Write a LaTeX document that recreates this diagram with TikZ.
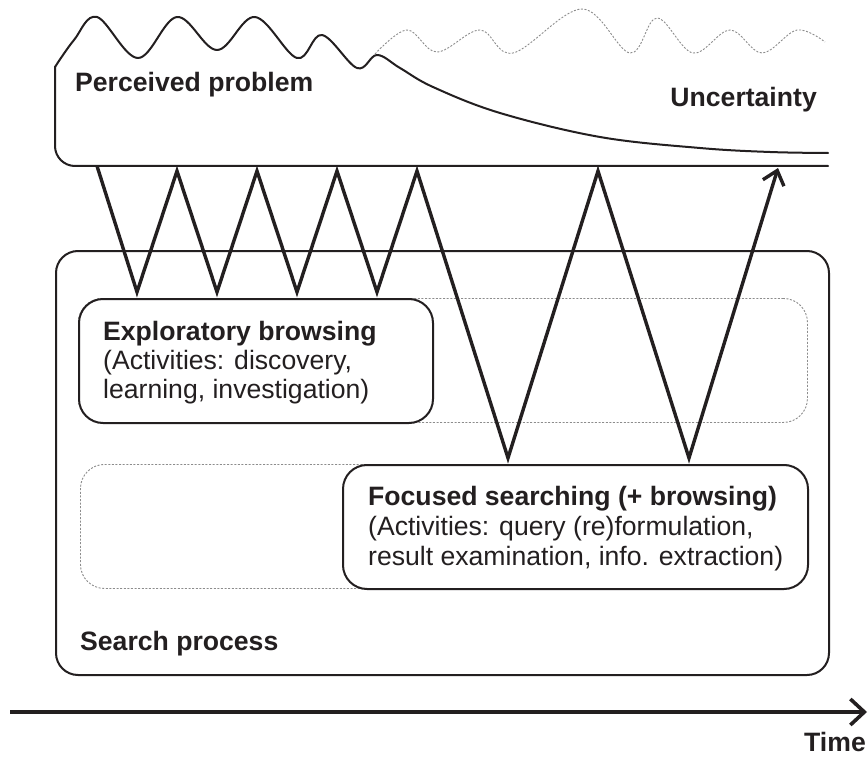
\documentclass[tikz,border=0pt]{standalone}
\usepackage{fontspec}
\setmainfont{Liberation Sans}
\usetikzlibrary{arrows.meta}
\definecolor{ink}{RGB}{35,31,32}
\definecolor{dotgray}{RGB}{140,140,140}
\begin{document}
\begin{tikzpicture}[x=1pt,y=-1pt,
  outline/.style={draw=ink, line width=2pt, line cap=round, line join=round},
  boxstyle/.style={draw=ink, line width=2pt, fill=white, rounded corners=24pt, inner sep=0pt},
  ghost/.style={draw=dotgray, line width=0.9pt, dash pattern=on 2pt off 1.6pt, rounded corners=24pt, inner sep=0pt},
  zig/.style={draw=ink, line width=3.4pt, line join=miter},
  lbl/.style={inner sep=0pt, font=\fontsize{26.6}{30}\selectfont, text=ink},
  bl/.style={inner sep=0pt, font=\fontsize{26.6}{30}\selectfont\bfseries, text=ink}]
\useasboundingbox (0,0) rectangle (868,757);

% Perceived problem region
\draw[outline] plot[smooth, tension=0.6] coordinates {(55,67) (74,40) (97,17) (138,58) (177,17) (217,50) (255,17) (297,58) (322,35) (357,68) (377,55) (400,68) (433,87) (500,113) (600,137) (700,148) (770,152) (828,153)};
\draw[outline, rounded corners=20pt] (55,67) -- (55,166) -- (828,166);
\draw[draw=dotgray, line width=0.9pt, dash pattern=on 2pt off 1.6pt] plot[smooth, tension=0.6] coordinates {(375,54) (407,30) (437,52) (480,30) (513,53) (582,9) (630,53) (657,18) (693,53) (730,30) (762,53) (797,30) (825,42)};
\node[bl, anchor=base west] (pp) at (75,92) {Perceived problem};
\node[bl, anchor=base east] (unc) at (817,107) {Uncertainty};

% Search process box
\node[boxstyle, rounded corners=22pt, anchor=north west, minimum width=773pt, minimum height=424pt] (sp) at (55,250) {};
\node[bl, anchor=base west] (splbl) at (80,650) {Search process};

% ghost boxes
\node[ghost, anchor=north west, minimum width=729pt, minimum height=124pt] (g1) at (78,298) {};
\node[ghost, anchor=north west, minimum width=727pt, minimum height=124pt] (g2) at (80,464) {};

% Exploratory browsing
\node[boxstyle, anchor=north west, minimum width=354pt, minimum height=124pt] (expl) at (78,298) {};
\node[bl, anchor=base west] (e1) at (103,340) {Exploratory browsing};
\node[lbl, anchor=base west] (e2) at (103,369) {(Activities: discovery,};
\node[lbl, anchor=base west] (e3) at (103,398) {learning, investigation)};

% Focused searching
\node[boxstyle, anchor=north west, minimum width=465pt, minimum height=124pt] (foc) at (342,464) {};
\node[bl, anchor=base west] (f1) at (368,505) {Focused searching (+ browsing)};
\node[lbl, anchor=base west] (f2) at (368,535) {(Activities: query (re)formulation,};
\node[lbl, anchor=base west] (f3) at (368,565) {result examination, info. extraction)};

% zigzag
\coordinate (z0) at (97,166);
\coordinate (z1) at (137,292);
\coordinate (z2) at (177,171);
\coordinate (z3) at (217,292);
\coordinate (z4) at (257,171);
\coordinate (z5) at (297,292);
\coordinate (z6) at (337,171);
\coordinate (z7) at (377,292);
\coordinate (z8) at (417,171);
\coordinate (z9) at (508,458);
\coordinate (z10) at (598,171);
\coordinate (z11) at (689,458);
\coordinate (z12) at (778,168);
\draw[zig, -{Straight Barb[length=13pt,width=22pt]}] (z0) -- (z1) -- (z2) -- (z3) -- (z4) -- (z5) -- (z6) -- (z7) -- (z8) -- (z9) -- (z10) -- (z11) -- (z12);

% time axis
\coordinate (ts) at (10,712);
\coordinate (te) at (867,712);
\draw[draw=ink, line width=3.6pt, -{Straight Barb[length=14pt,width=26pt]}] (ts) -- (te);
\node[bl, anchor=base east] (time) at (866,751) {Time};
\end{tikzpicture}
\end{document}
